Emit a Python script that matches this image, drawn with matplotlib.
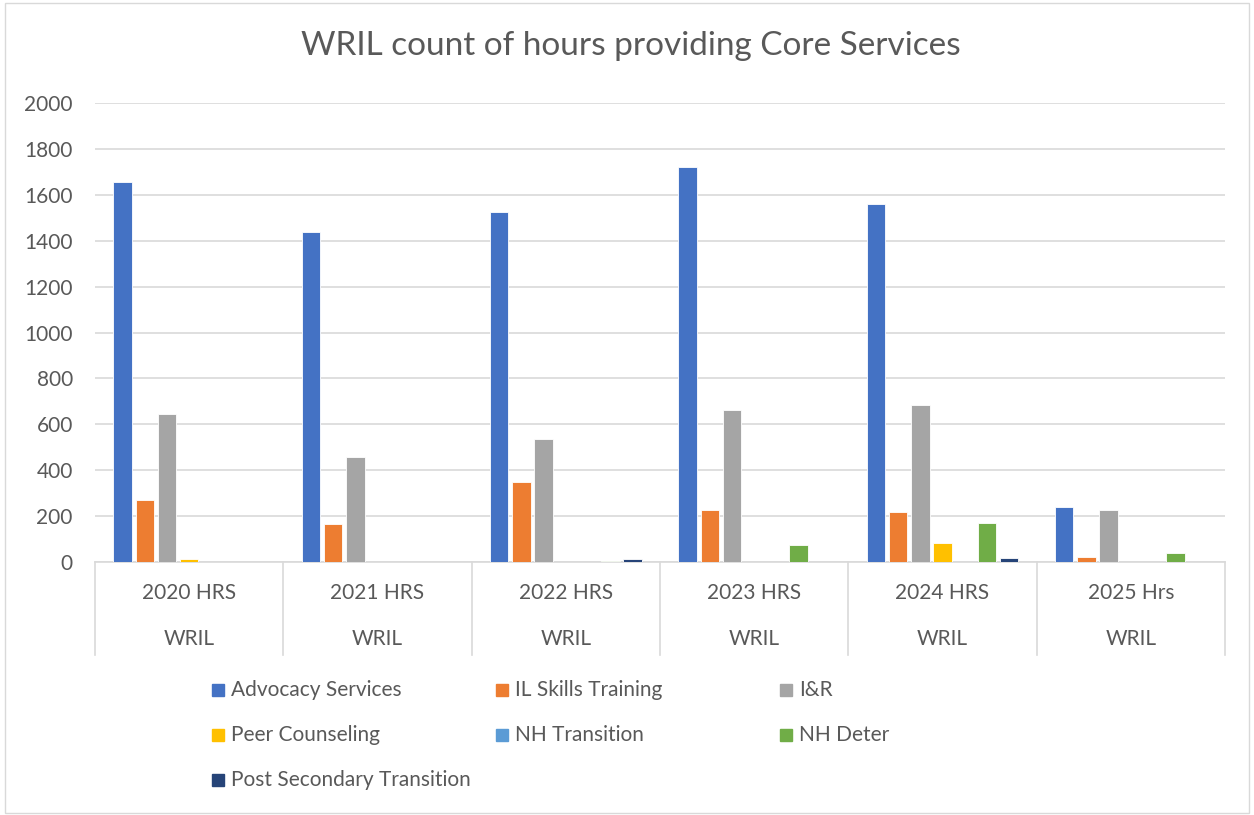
import matplotlib.pyplot as plt
from matplotlib.patches import Rectangle
from matplotlib.transforms import blended_transform_factory
import numpy as np

plt.rcParams['font.family'] = ['Lato', 'DejaVu Sans']

years = ['2020 HRS', '2021 HRS', '2022 HRS', '2023 HRS', '2024 HRS', '2025 Hrs']
group = 'WRIL'

series_names = ['Advocacy Services', 'IL Skills Training', 'I&R', 'Peer Counseling',
                'NH Transition', 'NH Deter', 'Post Secondary Transition']
colors = ['#4472C4', '#ED7D31', '#A5A5A5', '#FFC000', '#5B9BD5', '#70AD47', '#264478']

advocacy = [1654, 1436, 1527, 1720, 1562, 241]
il_skills = [270, 165, 347, 226, 218, 22]
i_and_r = [643, 458, 538, 664, 686, 226]
peer = [15, 0, 0, 0, 83, 0]
nh_transition = [0, 0, 0, 0, 0, 0]
nh_deter = [0, 0, 3, 74, 170, 39]
post_secondary = [0, 0, 15, 0, 17, 0]

values = [advocacy, il_skills, i_and_r, peer, nh_transition, nh_deter, post_secondary]

text_col = '#595959'
grid_col = '#D9D9D9'
fs = 15

fig = plt.figure(figsize=(12.54, 8.15), dpi=100)
ax = fig.add_axes([0.0758, 0.3104, 0.9011, 0.5632])

x = np.arange(len(years))
step = 0.118
width = 0.098
for j, (name, vals) in enumerate(zip(series_names, values)):
    ax.bar(x + (j - 3) * step, vals, width, color=colors[j], edgecolor='white',
           linewidth=0.6, label=name, zorder=3)

ax.set_xlim(-0.5, len(years) - 0.5)
ax.set_ylim(0, 2000)
ax.set_yticks(range(0, 2001, 200))
ax.yaxis.grid(True, color=grid_col, linewidth=1.2, zorder=0)
ax.tick_params(axis='y', length=0, pad=16, labelsize=fs, labelcolor=text_col)
ax.set_xticks([])
for s in ['top', 'right', 'left']:
    ax.spines[s].set_visible(False)
ax.spines['bottom'].set_color(grid_col)
ax.spines['bottom'].set_linewidth(1.2)

# two-level category axis (year / centre)
trans = blended_transform_factory(ax.transData, ax.transAxes)
for b in np.arange(-0.5, len(years), 1.0):
    ax.plot([b, b], [0, -0.203], transform=trans, color=grid_col, lw=1.2,
            clip_on=False)
for i, lab in enumerate(years):
    ax.text(i, -0.068, lab, transform=trans, ha='center', va='center',
            fontsize=fs, color=text_col)
    ax.text(i, -0.168, group, transform=trans, ha='center', va='center',
            fontsize=fs, color=text_col)

fig.text(0.503, 0.944, 'WRIL count of hours providing Core Services',
         ha='center', va='center', fontsize=24, color=text_col)

# legend laid out row by row like the original
W, H = 1254, 815
for i, name in enumerate(series_names):
    col, row = i % 3, i // 3
    px = 212 + col * 284
    py = 690 + row * 45
    fig.patches.append(Rectangle((px / W, (H - py - 6) / H), 12 / W, 12 / H,
                                 transform=fig.transFigure, color=colors[i]))
    fig.text((px + 19) / W, (H - py) / H, name, ha='left', va='center',
             fontsize=fs, color=text_col)

fig.patches.append(Rectangle((5 / W, 2 / H), 1244 / W, 810 / H, transform=fig.transFigure,
                             fill=False, edgecolor='#D9D9D9', lw=1))

fig.savefig('out.png', dpi=100)
